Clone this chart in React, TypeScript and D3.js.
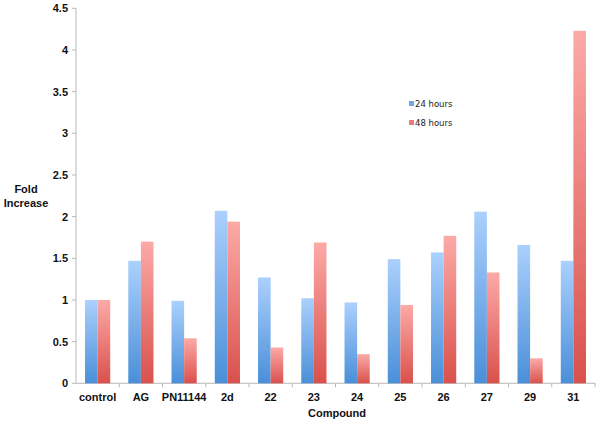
import React from "react";
import * as d3 from "d3";

const categories = ["control", "AG", "PN11144", "2d", "22", "23", "24", "25", "26", "27", "29", "31"];
const hours24 = [1.0, 1.47, 0.99, 2.07, 1.27, 1.02, 0.97, 1.49, 1.57, 2.06, 1.66, 1.47];
const hours48 = [1.0, 1.70, 0.54, 1.94, 0.43, 1.69, 0.35, 0.94, 1.77, 1.33, 0.30, 4.23];
const yTicks = [0, 0.5, 1, 1.5, 2, 2.5, 3, 3.5, 4, 4.5];
const seriesNames = ["24 hours", "48 hours"];

export default function App() {
  const W = 602, H = 423;
  const left = 76, right = 595, top = 8.3, bottom = 383.3;
  const x = d3.scaleBand<string>().domain(categories).range([left, right]).paddingInner(0).paddingOuter(0);
  const y = d3.scaleLinear().domain([0, 4.5]).range([bottom, top]);
  const bw = 12.6;
  const font = "Arial, 'Liberation Sans', sans-serif";
  return (
    <svg width={W} height={H} style={{ position: "absolute", left: 0, top: 0, background: "#fff" }}>
      <defs>
        <linearGradient id="gBlue" x1="0" y1="0" x2="0" y2="1">
          <stop offset="0" stopColor="#abd0fd" />
          <stop offset="1" stopColor="#4a8fd8" />
        </linearGradient>
        <linearGradient id="gRed" x1="0" y1="0" x2="0" y2="1">
          <stop offset="0" stopColor="#fcaaa7" />
          <stop offset="1" stopColor="#d9514c" />
        </linearGradient>
      </defs>
      <line x1={left} x2={left} y1={top} y2={bottom} stroke="#b8b8b8" strokeWidth={1} />
      {yTicks.map((t) => (
        <g key={t}>
          <line x1={left - 4} x2={left} y1={y(t)} y2={y(t)} stroke="#b8b8b8" />
          <text x={68} y={y(t) + 4} textAnchor="end" fontFamily={font} fontWeight="bold" fontSize={11} fill="#111">{t}</text>
        </g>
      ))}
      <line x1={left} x2={right} y1={bottom} y2={bottom} stroke="#b8b8b8" />
      {categories.map((c, i) => (
        <line key={"t" + c} x1={left + (i + 1) * x.bandwidth()} x2={left + (i + 1) * x.bandwidth()} y1={bottom} y2={bottom + 4} stroke="#b8b8b8" />
      ))}
      {categories.map((c, i) => {
        const cx = (x(c) as number) + x.bandwidth() / 2;
        return (
          <g key={c}>
            <rect x={cx - bw} y={y(hours24[i])} width={bw} height={bottom - y(hours24[i])} fill="url(#gBlue)" />
            <rect x={cx} y={y(hours48[i])} width={bw} height={bottom - y(hours48[i])} fill="url(#gRed)" />
            <text x={cx} y={401} textAnchor="middle" fontFamily={font} fontWeight="bold" fontSize={11} fill="#111">{c}</text>
          </g>
        );
      })}
      <text x={337} y={417} textAnchor="middle" fontFamily={font} fontWeight="bold" fontSize={11} fill="#111">Compound</text>
      <text x={26} y={193} textAnchor="middle" fontFamily={font} fontWeight="bold" fontSize={11} fill="#111">Fold</text>
      <text x={26} y={207} textAnchor="middle" fontFamily={font} fontWeight="bold" fontSize={11} fill="#111">Increase</text>
      {seriesNames.map((s, i) => (
        <g key={s}>
          <rect x={409} y={101 + i * 19} width={5} height={5} fill={i === 0 ? "#6fa6e6" : "#ea7c78"} />
          <text x={415} y={107 + i * 19} fontFamily="'DejaVu Sans', sans-serif" fontSize={8.5} fill="#222">{s}</text>
        </g>
      ))}
    </svg>
  );
}
